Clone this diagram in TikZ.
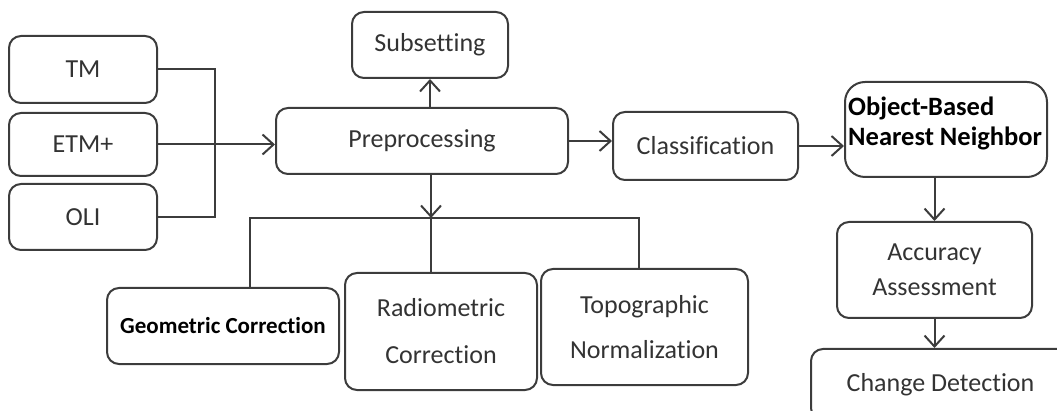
\documentclass[tikz,border=0pt]{standalone}
\usepackage{fontspec}
\setmainfont{Carlito}[Ligatures={NoCommon}]
\usetikzlibrary{arrows.meta}
\definecolor{ln}{HTML}{3C3C3C}
\definecolor{tx}{HTML}{333333}
\tikzset{
  box/.style={draw=ln, line width=2pt, rounded corners=12pt, inner sep=0pt, align=center,
    text=tx, font=\fontsize{26}{31}\selectfont},
  conn/.style={draw=ln, line width=2pt},
  arr/.style={conn, -{Straight Barb[length=11pt,width=20pt,line width=2pt]}},
}
\begin{document}
\begin{tikzpicture}[x=1pt,y=-1pt]
\useasboundingbox (0,0) rectangle (1057,411);
% inputs
\node[box, minimum width=148pt, minimum height=67pt] (TM) at (83,69.5) {TM};
\node[box, minimum width=148pt, minimum height=63pt] (ETM) at (83,144.5) {ETM+};
\node[box, minimum width=148pt, minimum height=66pt] (OLI) at (83,217) {OLI};
% main row
\node[box, minimum width=156pt, minimum height=66pt] (Sub) at (430,45) {Subsetting};
\node[box, minimum width=292pt, minimum height=66pt] (Pre) at (422,141) {Preprocessing};
\node[box, minimum width=185pt, minimum height=68pt] (Cls) at (705.5,146) {Classification};
\node[box, rounded corners=20pt, minimum width=202pt, minimum height=95pt] (Obj) at (946,129.5) {};
\node[anchor=west, inner sep=0pt, align=left, text=black,
  font=\fontsize{26.5}{30}\selectfont\bfseries] (ObjT) at (848,123) {Object-Based\\Nearest Neighbor};
\node[box, minimum width=195pt, minimum height=96pt] (Acc) at (934.5,270) {Accuracy\\[4pt]Assessment};
\node[box, minimum width=259pt, minimum height=71pt] (Chg) at (940.5,384.5) {Change Detection};
% corrections
\node[box, minimum width=232pt, minimum height=76pt, text=black,
  font=\fontsize{23}{28}\selectfont\bfseries] (Geo) at (223,326) {Geometric Correction};
\node[box, minimum width=192pt, minimum height=117pt] (Rad) at (441,331.5) {Radiometric\\[16pt]Correction};
\node[box, minimum width=207pt, minimum height=116pt] (Top) at (644.5,327) {Topographic\\[14pt]Normalization};
% connectors
\coordinate (jx) at (215,143);
\draw[conn] (TM.east) -- (TM.east -| jx) -- (OLI.east -| jx) -- (OLI.east);
\draw[arr] (ETM.east) -- (ETM.east -| Pre.west);
\draw[arr] (Sub.south |- Pre.north) -- (Sub.south);
\draw[arr] (Pre.east) -- (Pre.east -| Cls.west);
\draw[arr] (Cls.east) -- (Cls.east -| Obj.west);
\coordinate (bus) at (431,218);
\coordinate (gL) at (250,218);
\coordinate (gR) at (639,218);
\draw[arr] (Pre.south -| bus) -- (bus);
\draw[conn] (gL |- Geo.north) -- (gL) -- (gR) -- (gR |- Top.north);
\draw[conn] (bus) -- (bus |- Rad.north);
\draw[arr] (Obj.south -| Acc.north) -- (Acc.north);
\draw[arr] (Acc.south) -- (Acc.south |- Chg.north);
\end{tikzpicture}
\end{document}
